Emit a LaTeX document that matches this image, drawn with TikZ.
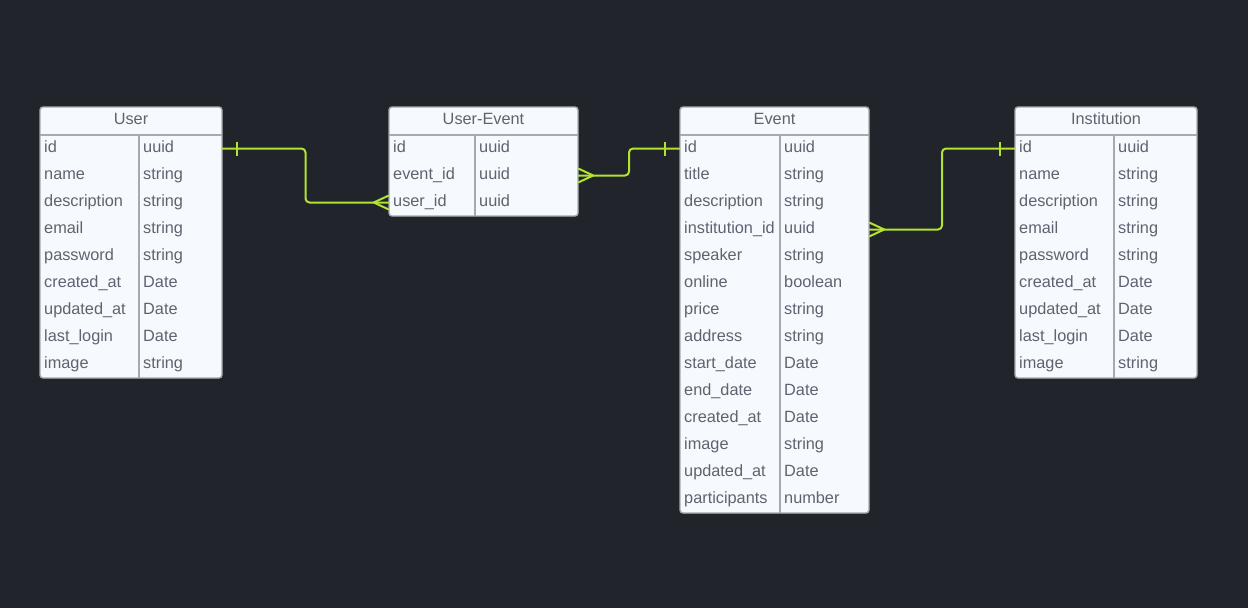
\documentclass[tikz,border=0pt]{standalone}
\usepackage{fontspec}
\setmainfont{Liberation Sans}
\usetikzlibrary{calc}

\definecolor{bgdark}{HTML}{21252B}
\definecolor{tblfill}{HTML}{F6FAFE}
\definecolor{tblline}{HTML}{A7A9AC}
\definecolor{tbltext}{HTML}{5E6370}
\definecolor{relgreen}{HTML}{B2E330}

\tikzset{
  tbl/.style={draw=tblline, fill=tblfill, line width=1.4pt, rounded corners=3pt},
  sep/.style={draw=tblline, line width=1.4pt},
  row/.style={inner sep=0pt, minimum height=27pt},
  field/.style={anchor=base west, inner sep=0pt, text=tbltext, font=\fontsize{16.3}{19}\selectfont},
  head/.style={anchor=base, inner sep=0pt, text=tbltext, font=\fontsize{16.3}{19}\selectfont},
  rel/.style={draw=relgreen, line width=2pt, rounded corners=4pt}
}

\begin{document}
\begin{tikzpicture}[x=1pt, y=-1pt]
\fill[bgdark] (0,0) rectangle (1248,608);
\useasboundingbox (0,0) rectangle (1248,608);

% User
\begin{scope}[shift={(40,107)}]
\draw[tbl] (0,0) rectangle (182,271);
\draw[sep] (0,28) -- (182,28);
\draw[sep] (99,28) -- (99,271);
\node[head] (user-head) at (91,17) {User};
\foreach \f/\t [count=\i] in {id/uuid, name/string, description/string, email/string, password/string, created\_at/Date, updated\_at/Date, last\_login/Date, image/string}{
  \node[row, minimum width=182pt] (user-\i) at (91,14.5+27*\i) {};
  \node[field] (user-\i-f) at (4,18.5+27*\i) {\f};
  \node[field] (user-\i-t) at (103,18.5+27*\i) {\t};
}
\end{scope}

% User-Event
\begin{scope}[shift={(389,107)}]
\draw[tbl] (0,0) rectangle (189,109);
\draw[sep] (0,28) -- (189,28);
\draw[sep] (86,28) -- (86,109);
\node[head] (ue-head) at (94.5,17) {User-Event};
\foreach \f/\t [count=\i] in {id/uuid, event\_id/uuid, user\_id/uuid}{
  \node[row, minimum width=189pt] (ue-\i) at (94.5,14.5+27*\i) {};
  \node[field] (ue-\i-f) at (4,18.5+27*\i) {\f};
  \node[field] (ue-\i-t) at (90,18.5+27*\i) {\t};
}
\end{scope}

% Event
\begin{scope}[shift={(680,107)}]
\draw[tbl] (0,0) rectangle (189,406);
\draw[sep] (0,28) -- (189,28);
\draw[sep] (100,28) -- (100,406);
\node[head] (event-head) at (94.5,17) {Event};
\foreach \f/\t [count=\i] in {id/uuid, title/string, description/string, institution\_id/uuid, speaker/string, online/boolean, price/string, address/string, start\_date/Date, end\_date/Date, created\_at/Date, image/string, updated\_at/Date, participants/number}{
  \node[row, minimum width=189pt] (event-\i) at (94.5,14.5+27*\i) {};
  \node[field] (event-\i-f) at (4,18.5+27*\i) {\f};
  \node[field] (event-\i-t) at (104,18.5+27*\i) {\t};
}
\end{scope}

% Institution
\begin{scope}[shift={(1015,107)}]
\draw[tbl] (0,0) rectangle (182,271);
\draw[sep] (0,28) -- (182,28);
\draw[sep] (99,28) -- (99,271);
\node[head] (inst-head) at (91,17) {Institution};
\foreach \f/\t [count=\i] in {id/uuid, name/string, description/string, email/string, password/string, created\_at/Date, updated\_at/Date, last\_login/Date, image/string}{
  \node[row, minimum width=182pt] (inst-\i) at (91,14.5+27*\i) {};
  \node[field] (inst-\i-f) at (4,18.5+27*\i) {\f};
  \node[field] (inst-\i-t) at (103,18.5+27*\i) {\t};
}
\end{scope}

% relations
\draw[rel] (user-1.east) -| ($(user-1.east)!0.5!(ue-3.west)$) |- (ue-3.west);
\draw[rel] ($(user-1.east)+(15,-7)$) -- ($(user-1.east)+(15,7)$);
\draw[rel, rounded corners=0pt] ($(ue-3.west)+(0,-7)$) -- ($(ue-3.west)+(-15,0)$) -- ($(ue-3.west)+(0,7)$);

\draw[rel] (ue-2.east) -| ($(ue-2.east)!0.5!(event-1.west)$) |- (event-1.west);
\draw[rel, rounded corners=0pt] ($(ue-2.east)+(0,-7)$) -- ($(ue-2.east)+(15,0)$) -- ($(ue-2.east)+(0,7)$);
\draw[rel] ($(event-1.west)+(-15,-7)$) -- ($(event-1.west)+(-15,7)$);

\draw[rel] (event-4.east) -| ($(event-4.east)!0.5!(inst-1.west)$) |- (inst-1.west);
\draw[rel, rounded corners=0pt] ($(event-4.east)+(0,-7)$) -- ($(event-4.east)+(15,0)$) -- ($(event-4.east)+(0,7)$);
\draw[rel] ($(inst-1.west)+(-15,-7)$) -- ($(inst-1.west)+(-15,7)$);
\end{tikzpicture}
\end{document}
